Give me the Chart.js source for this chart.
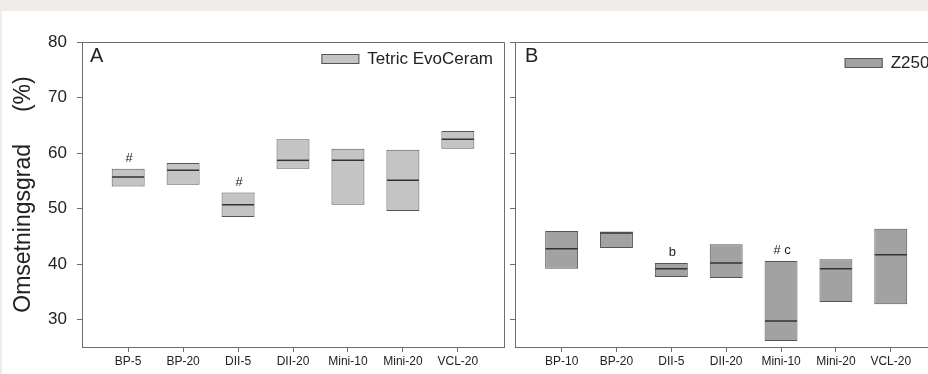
<!DOCTYPE html>
<html>
<head>
<meta charset="utf-8">
<script src="https://cdn.jsdelivr.net/npm/chart.js@4.4.0/dist/chart.umd.min.js"></script>
<style>
  html, body { margin: 0; padding: 0; background: #eeebe9; overflow: hidden; }
  #wrap { position: relative; width: 928px; height: 374px; overflow: hidden; }
  #paper { position: absolute; left: 2px; top: 11px; right: 0; bottom: 0; background: #fff; }
  #chartA { position: absolute; left: 0; top: 0; }
  #chartB { position: absolute; left: 508px; top: 0; }
</style>
</head>
<body>
<div id="wrap">
  <div id="paper"></div>
  <canvas id="chartA" width="510" height="374"></canvas>
  <canvas id="chartB" width="440" height="374"></canvas>
</div>
<script>
// panel A - Tetric EvoCeram
const labelsA = ['BP-5', 'BP-20', 'DII-5', 'DII-20', 'Mini-10', 'Mini-20', 'VCL-20'];
const lowA = [54.0, 54.3, 48.5, 57.2, 50.7, 49.6, 60.8];
const highA = [57.2, 58.2, 52.9, 62.5, 60.8, 60.6, 64.0];
const medA = [55.7, 56.9, 50.7, 58.7, 58.7, 55.1, 62.5];
const notesA = ['#', '', '#', '', '', '', ''];

// panel B - Z250
const labelsB = ['BP-10', 'BP-20', 'DII-5', 'DII-20', 'Mini-10', 'Mini-20', 'VCL-20'];
const lowB = [39.2, 42.9, 37.7, 37.5, 26.2, 33.2, 32.8];
const highB = [46.0, 45.9, 40.2, 43.6, 40.6, 40.9, 46.4];
const medB = [42.8, 45.6, 39.2, 40.2, 29.8, 39.2, 41.7];
const notesB = ['', '', 'b', '', '# c', '', ''];

const yTicks = [30, 40, 50, 60, 70, 80];

Chart.defaults.font.family = "'Liberation Sans', Arial, sans-serif";
Chart.defaults.color = '#222';

const lineCol = '#6e6e6e';

// frame, letter, legend and the small marks above the boxes
const panelDecor = {
    id: 'panelDecor',
    afterDraw(chart, args, opts) {
        const ctx = chart.ctx;
        const a = chart.chartArea;
        const xs = chart.scales.x, ys = chart.scales.y;
        const box = chart.data.datasets.find(d => d.type === 'bar');

        ctx.save();
        ctx.strokeStyle = lineCol;
        ctx.lineWidth = 1;
        ctx.beginPath();
        ctx.moveTo(a.left, a.top + 0.5);
        ctx.lineTo(a.right + 0.5, a.top + 0.5);
        ctx.lineTo(a.right + 0.5, a.bottom);
        ctx.stroke();

        // panel letter
        ctx.fillStyle = '#222';
        ctx.font = "20px 'Liberation Sans', Arial, sans-serif";
        ctx.textBaseline = 'top';
        ctx.textAlign = 'left';
        ctx.fillText(opts.letter, a.left + opts.letterDx, a.top + 4);

        // legend
        ctx.font = "17px 'Liberation Sans', Arial, sans-serif";
        ctx.textAlign = 'right';
        ctx.textBaseline = 'middle';
        const ly = a.top + opts.legendDy;
        const tr = a.right - opts.legendDx;
        const tw = ctx.measureText(box.label).width;
        ctx.fillText(box.label, tr, ly);
        const bx = tr - tw - 46;
        ctx.fillStyle = box.backgroundColor;
        ctx.fillRect(bx, ly - 5, 38, 10);
        ctx.strokeStyle = '#555';
        ctx.strokeRect(bx + 0.5, ly - 4.5, 37, 9);

        // notes over boxes
        ctx.fillStyle = '#222';
        ctx.font = "13px 'Liberation Sans', Arial, sans-serif";
        ctx.textAlign = 'center';
        ctx.textBaseline = 'bottom';
        opts.notes.forEach((n, i) => {
            if (!n) return;
            ctx.fillText(n, xs.getPixelForValue(i) + 1, ys.getPixelForValue(opts.high[i]) - 4);
        });
        ctx.restore();
    }
};

function makePanel(id, p) {
    return new Chart(document.getElementById(id), {
        type: 'bar',
        data: {
            datasets: [{
                type: 'bar',
                label: p.name,
                data: p.labels.map((_, i) => ({ x: i, y: [p.low[i], p.high[i]] })),
                backgroundColor: p.fill,
                borderColor: '#555',
                borderWidth: 1,
                borderSkipped: false,
                barPercentage: 0.6,
                categoryPercentage: 1,
                order: 2
            }, {
                type: 'scatter',
                label: 'median',
                data: p.labels.map((_, i) => ({ x: i, y: p.med[i] })),
                pointStyle: 'line',
                pointRadius: 16,
                pointHoverRadius: 16,
                pointBorderColor: '#333',
                pointBorderWidth: 1.5,
                borderColor: '#333',
                order: 1
            }]
        },
        options: {
            responsive: false,
            animation: false,
            events: [],
            layout: { autoPadding: false, padding: { top: 42, left: 0, right: p.padRight, bottom: 0 } },
            plugins: {
                legend: { display: false },
                tooltip: { enabled: false },
                panelDecor: {
                    letter: p.letter, letterDx: p.letterDx,
                    legendDx: p.legendDx, legendDy: p.legendDy,
                    notes: p.notes, high: p.high
                }
            },
            scales: {
                x: {
                    type: 'linear',
                    min: p.xMin,
                    max: p.xMax,
                    offset: false,
                    afterBuildTicks: s => { s.ticks = p.labels.map((_, i) => ({ value: i })); },
                    afterFit: s => { s.height = 27; },
                    ticks: {
                        callback: v => p.labels[v],
                        font: { size: 12 },
                        color: '#222',
                        padding: 2,
                        maxRotation: 0,
                        autoSkip: false
                    },
                    grid: { offset: false, drawOnChartArea: false, tickLength: 5, color: lineCol },
                    border: { color: lineCol }
                },
                y: {
                    min: 25.1,
                    max: 80,
                    afterBuildTicks: s => { s.ticks = yTicks.map(v => ({ value: v })); },
                    afterFit: s => { s.width = p.yWidth; },
                    ticks: { display: p.showY, font: { size: 17 }, color: '#222', padding: 10 },
                    grid: { drawOnChartArea: false, tickLength: 5, color: lineCol },
                    border: { color: lineCol },
                    title: {
                        display: p.showY,
                        text: 'Omsetningsgrad     (%)',
                        font: { size: 23 },
                        color: '#222',
                        padding: { top: 10, bottom: 0 }
                    }
                }
            }
        },
        plugins: [panelDecor]
    });
}

makePanel('chartA', {
    name: 'Tetric EvoCeram', letter: 'A',
    labels: labelsA, low: lowA, high: highA, med: medA, notes: notesA,
    fill: '#c4c4c4', showY: true, yWidth: 82, padRight: 6,
    xMin: -0.84, xMax: 6.84, letterDx: 8, legendDx: 11, legendDy: 17
});

makePanel('chartB', {
    name: 'Z250', letter: 'B',
    labels: labelsB, low: lowB, high: highB, med: medB, notes: notesB,
    fill: '#a2a2a2', showY: false, yWidth: 7, padRight: 10.6,
    xMin: -0.85, xMax: 6.85, letterDx: 10, legendDx: 8, legendDy: 21
});
</script>
</body>
</html>
